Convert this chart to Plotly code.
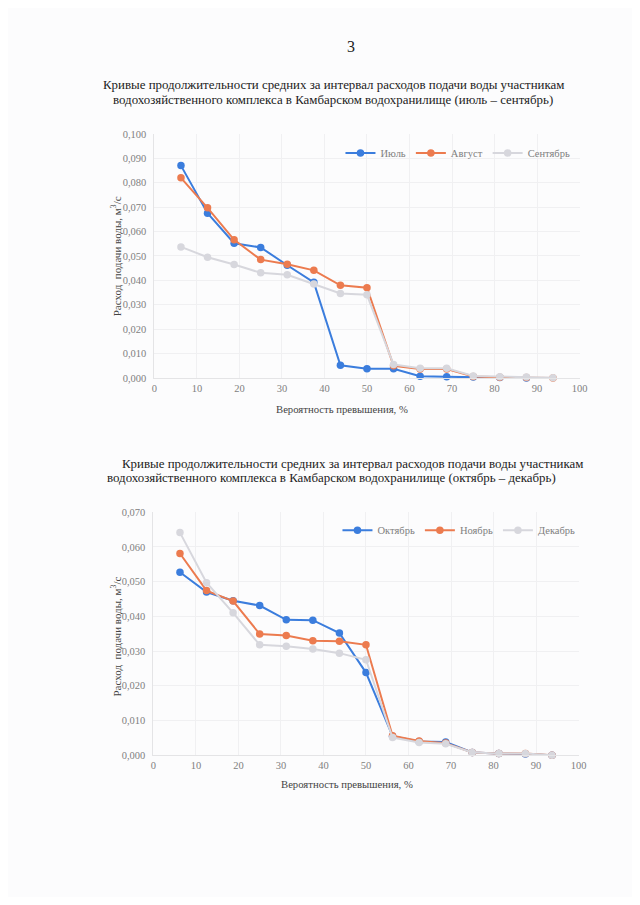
import plotly.graph_objects as go

# ---- data ----
prob = [6.25, 12.5, 18.75, 25.0, 31.25, 37.5, 43.75, 50.0, 56.25, 62.5, 68.75, 75.0, 81.25, 87.5, 93.75]

jul = [0.087, 0.0675, 0.0552, 0.0535, 0.0462, 0.0392, 0.0052, 0.0038, 0.0038, 0.0007, 0.0005, 0.0004, 0.0002, 0.0000, -0.0003]
aug = [0.082, 0.0697, 0.0566, 0.0485, 0.0466, 0.0441, 0.0380, 0.0370, 0.0050, 0.0037, 0.0037, 0.0006, 0.0003, 0.0002, 0.0000]
sep = [0.0537, 0.0495, 0.0465, 0.0431, 0.0423, 0.0385, 0.0346, 0.0341, 0.0055, 0.0040, 0.0040, 0.0008, 0.0005, 0.0004, 0.0001]

oct_ = [0.0527, 0.0470, 0.0445, 0.0431, 0.0390, 0.0389, 0.0352, 0.0238, 0.0055, 0.0040, 0.0038, 0.0008, 0.0005, 0.0004, 0.0000]
nov = [0.0581, 0.0474, 0.0444, 0.0349, 0.0345, 0.0330, 0.0328, 0.0318, 0.0056, 0.0041, 0.0035, 0.0008, 0.0005, 0.0005, 0.0000]
dec = [0.0641, 0.0497, 0.0410, 0.0318, 0.0314, 0.0306, 0.0294, 0.0275, 0.0051, 0.0037, 0.0033, 0.0008, 0.0005, 0.0005, 0.0000]

names1 = ["Июль", "Август", "Сентябрь"]
names2 = ["Октябрь", "Ноябрь", "Декабрь"]
colors = ["#3b7ddd", "#ec7b4f", "#d7d7dd"]

page_num = "3"
title1 = ["Кривые продолжительности средних за интервал расходов подачи воды участникам",
          "водохозяйственного комплекса в Камбарском водохранилище (июль – сентябрь)"]
title2 = ["Кривые продолжительности средних за интервал расходов подачи воды участникам",
          "водохозяйственного комплекса в Камбарском водохранилище (октябрь – декабрь)"]
xlabel = "Вероятность превышения, %"
ylabel = "Расход  подачи воды, м<sup>3</sup>/с"

# page is 640x905; the html body adds an 8px margin around the figure
M = 8
W, H = 640 - 2 * M, 905 - 2 * M
SX, OX = 0.982, 2.8   # measured screenshot scale / offset
SY, OY = 0.987, 4.3
def px(x):
    return ((x - OX) / SX - M) / W
def py(y):
    return 1 - ((y - OY) / SY - M) / H

SERIF = "Liberation Serif"

fig = go.Figure()

for vals, nm, c in zip([jul, aug, sep], names1, colors):
    fig.add_trace(go.Scatter(x=prob, y=vals, name=nm, mode="lines+markers",
                             line=dict(color=c, width=2), marker=dict(color=c, size=7.5),
                             xaxis="x", yaxis="y", legend="legend", cliponaxis=False))
for vals, nm, c in zip([oct_, nov, dec], names2, colors):
    fig.add_trace(go.Scatter(x=prob, y=vals, name=nm, mode="lines+markers",
                             line=dict(color=c, width=2), marker=dict(color=c, size=7.5),
                             xaxis="x2", yaxis="y2", legend="legend2", cliponaxis=False))

tickfont = dict(family=SERIF, size=10.5, color="#808080")
axcommon = dict(showgrid=True, gridcolor="#f0f0f2", gridwidth=1, zeroline=False,
                showline=True, linecolor="#e4e4e6", linewidth=1, ticks="",
                tickfont=tickfont)

legfont = dict(family=SERIF, size=10.5, color="#808080")

fig.update_layout(
    width=W, height=H,
    margin=dict(l=0, r=0, t=0, b=0),
    paper_bgcolor="#fcfcfd", plot_bgcolor="#fcfcfd",
    separators=", ",
    showlegend=True,
    xaxis=dict(domain=[px(154), px(579)], range=[0, 100], dtick=10, anchor="y", **axcommon),
    yaxis=dict(domain=[py(377), py(133)], range=[0, 0.1], dtick=0.01, tickformat=".3f",
               anchor="x", ticklabelstandoff=5, **axcommon),
    xaxis2=dict(domain=[px(153), px(578)], range=[0, 100], dtick=10, anchor="y2", **axcommon),
    yaxis2=dict(domain=[py(754), py(511)], range=[0, 0.07], dtick=0.01, tickformat=".3f",
                anchor="x2", ticklabelstandoff=5, **axcommon),
    legend=dict(orientation="h", x=px(340), y=py(152), xanchor="left", yanchor="middle",
                bgcolor="rgba(0,0,0,0)", font=legfont, itemwidth=30, tracegroupgap=0),
    legend2=dict(orientation="h", x=px(337), y=py(529), xanchor="left", yanchor="middle",
                 bgcolor="rgba(0,0,0,0)", font=legfont, itemwidth=30, tracegroupgap=0),
)

ann = []
def text(x, y, s, size, color="#222222", angle=0, xanchor="center"):
    ann.append(dict(x=px(x), y=py(y), xref="paper", yref="paper", text=s, showarrow=False,
                    xanchor=xanchor, yanchor="middle", textangle=angle,
                    font=dict(family=SERIF, size=size, color=color)))

text(351, 46, page_num, 16)
text(333, 84, title1[0], 12.9)
text(333, 99, title1[1], 12.9)
text(120, 463, title2[0], 12.9, xanchor="left")
text(105, 477, title2[1], 12.9, xanchor="left")
text(342, 408, xlabel, 10.7, color="#444444")
text(347, 783, xlabel, 10.7, color="#444444")
text(116, 255, ylabel, 11, color="#444444", angle=-90)
text(116, 635, ylabel, 11, color="#444444", angle=-90)
fig.update_layout(annotations=ann)

fig.write_html("out.html")
